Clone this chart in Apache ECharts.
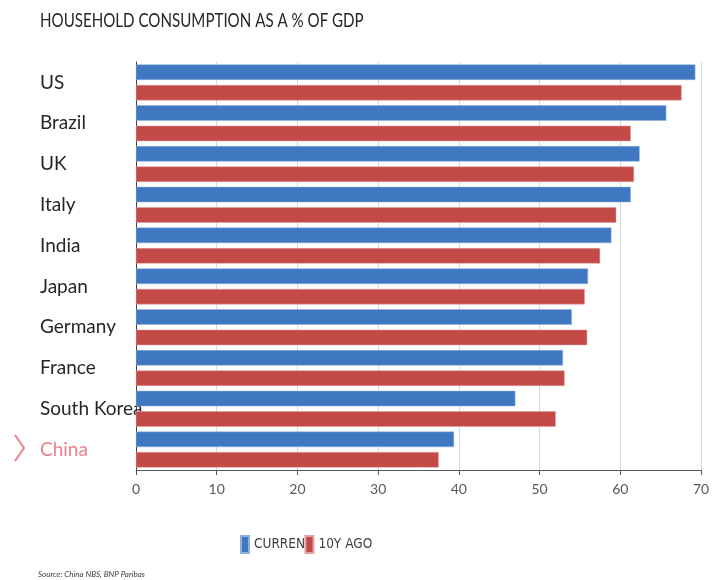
<!DOCTYPE html>
<html>
<head>
<meta charset="utf-8">
<script src="https://cdn.jsdelivr.net/npm/echarts@6/dist/echarts.min.js"></script>
<style>
html,body{margin:0;padding:0;background:#fff;}
#chart{width:722px;height:580px;}
</style>
</head>
<body>
<div id="chart"></div>
<script>
const categories = ['US','Brazil','UK','Italy','India','Japan','Germany','France','South Korea','China'];
const currentValues = [69.3, 65.7, 62.4, 61.3, 58.9, 56.0, 54.0, 52.9, 47.0, 39.4];
const tenYearAgoValues = [67.6, 61.3, 61.7, 59.5, 57.5, 55.6, 55.9, 53.1, 52.0, 37.5];
const seriesNames = ['CURRENT', '10Y AGO'];
const xTicks = [0, 10, 20, 30, 40, 50, 60, 70];
const titleText = 'HOUSEHOLD CONSUMPTION AS A % OF GDP';
const sourceText = 'Source: China NBS, BNP Paribas';
const highlightCategory = 'China';

const FONT = 'Lato, "Open Sans", sans-serif';
const NARROW = '"Liberation Sans Narrow", "DejaVu Sans Condensed", sans-serif';
const chart = echarts.init(document.getElementById('chart'), null, {renderer: 'canvas'});
chart.setOption({
  backgroundColor: '#ffffff',
  animation: false,
  legend: {
    data: seriesNames,
    left: 240, top: 535,
    padding: 0,
    icon: 'rect',
    itemWidth: 8, itemHeight: 17,
    itemGap: -8,
    textStyle: {fontFamily: NARROW, fontSize: 13.5, color: '#404040', padding: [0,0,0,0]}
  },
  grid: {left: 136, right: 21, top: 62, bottom: 110, containLabel: false},
  xAxis: {
    type: 'value',
    min: xTicks[0], max: xTicks[xTicks.length-1], interval: 10,
    axisLine: {show: true, lineStyle: {color: '#595959', width: 1}},
    axisTick: {show: true, length: 5, lineStyle: {color: '#595959'}},
    axisLabel: {fontFamily: FONT, fontSize: 14, color: '#595959', margin: 12},
    splitLine: {show: true, lineStyle: {color: '#d9d9d9', width: 1}}
  },
  yAxis: {
    type: 'category',
    data: categories,
    inverse: true,
    axisLine: {show: true, lineStyle: {color: '#404040', width: 1}},
    axisTick: {show: false},
    axisLabel: {
      fontFamily: FONT, fontSize: 19, color: '#262626',
      align: 'left', margin: 96,
      formatter: function (v) { return v === highlightCategory ? '{hl|' + v + '}' : v; },
      rich: {hl: {fontFamily: FONT, fontSize: 19, color: '#e8828a'}}
    }
  },
  series: [
    {
      name: seriesNames[0], type: 'bar', data: currentValues,
      barWidth: 15.5, barGap: '32%', barCategoryGap: '12%',
      itemStyle: {color: '#3f78c1', borderColor: '#8fb0dc', borderWidth: 0.5}
    },
    {
      name: seriesNames[1], type: 'bar', data: tenYearAgoValues,
      barWidth: 15.5, barGap: '32%', barCategoryGap: '12%',
      itemStyle: {color: '#c44a48', borderColor: '#e0a0a0', borderWidth: 0.5}
    }
  ],
  graphic: [
    {
      type: 'text', x: 40, y: 11, scaleX: 0.756,
      style: {text: titleText, fontFamily: FONT, fontSize: 20, fill: '#262626',
              textAlign: 'left', textVerticalAlign: 'top'}
    },
    {
      type: 'polyline',
      shape: {points: [[15, 435], [24, 448], [15, 461]]},
      style: {stroke: '#e8828a', lineWidth: 2, fill: null}
    },
    {
      type: 'text', left: 38, top: 570,
      style: {text: sourceText, fontFamily: FONT, fontSize: 8, fontStyle: 'italic', fill: '#404040'}
    }
  ]
});
</script>
</body>
</html>
